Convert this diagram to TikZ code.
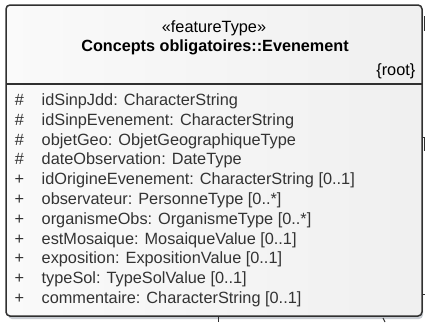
\documentclass[tikz,border=0pt]{standalone}
\usepackage{fontspec}
\setmainfont{Liberation Sans}
\definecolor{boxline}{HTML}{303030}
\definecolor{attrtext}{HTML}{333333}
\definecolor{shadowgray}{HTML}{C8CCD2}
\tikzset{
  umltext/.style={font=\fontsize{16.3}{18}\selectfont, inner sep=0pt},
  stub/.style={draw=boxline, line width=0.9pt},
}
\begin{document}
\begin{tikzpicture}[x=1pt,y=-1pt]
  \useasboundingbox (0,0) rectangle (425,322);
  % shadow and class box
  \fill[shadowgray, rounded corners=4pt] (8,8) rectangle (423,319);
  \shade[left color=white!96!gray, right color=white!88!gray, draw=boxline,
    line width=1.5pt, rounded corners=4pt] (6,5) rectangle (422,316);
  \coordinate (sepwest) at (6,84);
  \coordinate (sepeast) at (422,84);
  \draw[boxline, line width=1.5pt] (sepwest) -- (sepeast);
  % header
  \node[umltext, anchor=base] (stereo) at (214,32.5) {«featureType»};
  \node[umltext, anchor=base, font=\fontsize{16.2}{18}\selectfont\bfseries] (title) at (215,51) {Concepts obligatoires::Evenement};
  \node[umltext, anchor=base east] (root) at (415.5,75) {\{root\}};
  % attributes
  \foreach \vis/\lab [count=\i] in {
      \#/idSinpJdd: CharacterString,
      \#/idSinpEvenement: CharacterString,
      \#/objetGeo: ObjetGeographiqueType,
      \#/dateObservation: DateType,
      +/idOrigineEvenement: CharacterString [0..1],
      +/observateur: PersonneType [0..*],
      +/organismeObs: OrganismeType [0..*],
      +/estMosaique: MosaiqueValue [0..1],
      +/exposition: ExpositionValue [0..1],
      +/typeSol: TypeSolValue [0..1],
      +/commentaire: CharacterString [0..1]} {
    \node[umltext, text=attrtext, anchor=base] (vis\i) at (19.5,105.5+19.8*\i-19.8) {\vis};
    \node[umltext, text=attrtext, anchor=base west] (attr\i) at (41.5,105.5+19.8*\i-19.8) {\lab};
  }
  % cut connector ends
  \coordinate (ca) at (424,16);
  \coordinate (cb) at (424,31);
  \coordinate (cc) at (422,137);
  \coordinate (cd) at (425,137);
  \coordinate (ce) at (424,138);
  \coordinate (cf) at (424,151);
  \coordinate (cg) at (422,294);
  \coordinate (ch) at (425,294);
  \coordinate (ci) at (218,317);
  \coordinate (cj) at (218,322);
  \coordinate (ck) at (383,318);
  \coordinate (cl) at (385,322);
  \draw[stub] (ca) -- (cb);
  \draw[stub] (cc) -- (cd);
  \draw[stub] (ce) -- (cf);
  \draw[stub] (cg) -- (ch);
  \draw[stub] (ci) -- (cj);
  \draw[stub] (ck) -- (cl);
\end{tikzpicture}
\end{document}
